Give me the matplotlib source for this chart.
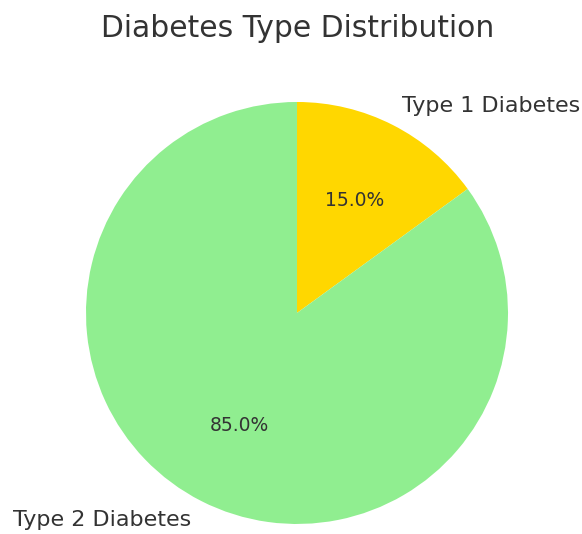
import matplotlib.pyplot as plt

labels = ["Type 1 Diabetes", "Type 2 Diabetes"]
shares = [15, 85]
colors = ["#FFD700", "#90EE90"]

fig = plt.figure(figsize=(5.82, 5.34), dpi=100)
# square axes so the pie stays round
ax = fig.add_axes([0.0571, -0.08, 0.9064, 0.9878])
wedges, texts, autotexts = ax.pie(
    shares, labels=labels, colors=colors, autopct="%1.1f%%",
    startangle=90, counterclock=False,
    textprops={"color": "#333333"})
for t in texts:
    t.set_fontsize(16)
for t in autotexts:
    t.set_fontsize(13.5)
ax.set_xlim(-1.25, 1.25)
ax.set_ylim(-1.25, 1.25)

fig.text(0.511, 0.946, "Diabetes Type Distribution", fontsize=21.4,
         color="#333333", ha="center", va="center")
fig.savefig("out.png")
